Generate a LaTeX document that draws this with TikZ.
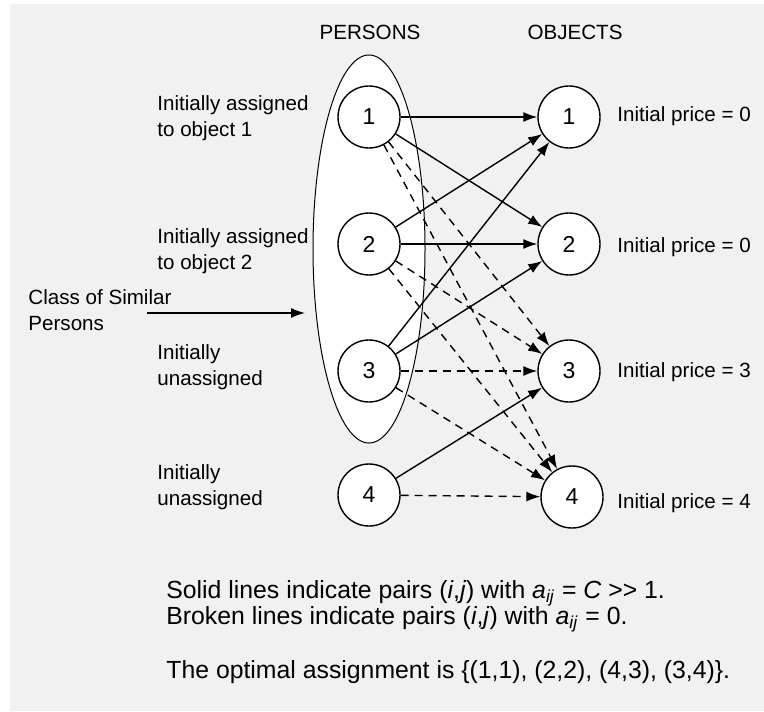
\documentclass[tikz,border=0pt]{standalone}
\usepackage{fontspec}
\setmainfont{Liberation Sans}
\usetikzlibrary{arrows.meta}
\definecolor{bggray}{HTML}{F1F1F1}

\begin{document}
\begin{tikzpicture}[x=0.5pt,y=-0.5pt,
  vtx/.style={circle,draw,fill=white,minimum size=31pt,inner sep=0pt,line width=0.7pt,font=\fontsize{11.5}{13}\selectfont},
  lbl/.style={align=left,anchor=west,inner sep=0pt,font=\fontsize{10.3}{12.8}\selectfont},
  price/.style={anchor=base west,inner sep=0pt,font=\fontsize{10.3}{12.8}\selectfont},
  note/.style={anchor=base west,inner sep=0pt,font=\fontsize{12.4}{14}\selectfont},
  sol/.style={line width=0.7pt,-{Latex[length=7pt,width=5pt]}},
  brk/.style={sol,dash pattern=on 4pt off 3pt}]
\useasboundingbox (0,0) rectangle (764,711);
\fill[white] (0,0) rectangle (764,711);
\fill[bggray] (10,4) rectangle (764,711);
\draw[fill=white,line width=0.5pt] (369,249) ellipse [x radius=28pt,y radius=97pt];
\node[price,anchor=center] (hp) at (370,32) {PERSONS};
\node[price,anchor=center] (ho) at (575,32) {OBJECTS};
\foreach \i/\y in {1/117,2/244,3/371,4/495}
  \node[vtx] (p\i) at (369,\y) {\i};
\foreach \i/\x/\y in {1/569/117,2/569/244,3/569/371,4/572/497}
  \node[vtx] (o\i) at (\x,\y) {\i};
\foreach \a/\b in {1/1,1/2,2/1,2/2,3/1,3/2,4/3}
  \draw[sol] (p\a) -- (o\b);
\foreach \a/\b in {1/3,1/4,2/3,2/4,3/3,3/4,4/4}
  \draw[brk] (p\a) -- (o\b);
\foreach \i/\y/\p in {1/122/0,2/252/0,3/377/3,4/508/4}
  \node[price] (pr\i) at (617,\y) {Initial price = \p};
\node[lbl] (l1) at (157,118) {Initially assigned\\to object 1};
\node[lbl] (l2) at (157,251) {Initially assigned\\to object 2};
\node[lbl] (l3) at (157,367) {Initially\\unassigned};
\node[lbl] (l4) at (157,487) {Initially\\unassigned};
\node[lbl] (cls) at (28,310) {Class of Similar\\Persons};
\coordinate (cs) at (147,313);
\coordinate (ce) at (305,313);
\draw[sol] (cs) -- (ce);
\node[note] (n1) at (166,598) {Solid lines indicate pairs (\textit{i},\textit{j}) with \textit{a}\textsubscript{\textit{ij}} = \textit{C} {>}{>} 1.};
\node[note] (n2) at (166,624) {Broken lines indicate pairs (\textit{i},\textit{j}) with \textit{a}\textsubscript{\textit{ij}} = 0.};
\node[note] (n3) at (166,678) {The optimal assignment is \{(1,1), (2,2), (4,3), (3,4)\}.};
\end{tikzpicture}
\end{document}
